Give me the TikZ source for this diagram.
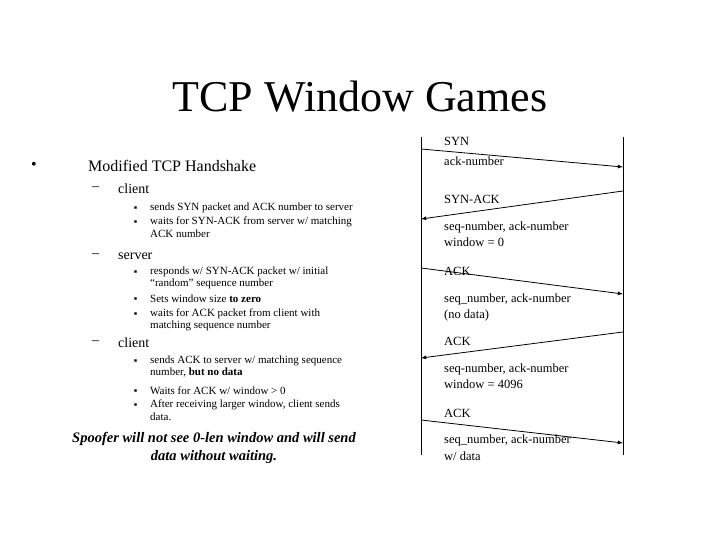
\documentclass[tikz,border=0pt]{standalone}
\usepackage{fontspec}
\setmainfont{Liberation Serif}
\begin{document}
\begin{tikzpicture}[x=1pt,y=-1pt,
  lv1/.style={anchor=west,inner sep=0pt,font=\fontsize{16}{18}\selectfont},
  lv2/.style={anchor=west,inner sep=0pt,font=\fontsize{14}{16}\selectfont},
  lv3/.style={anchor=west,inner sep=0pt,font=\fontsize{11}{12}\selectfont},
  lab/.style={anchor=west,inner sep=0pt,font=\fontsize{12.5}{14}\selectfont},
  msg/.style={thick,-latex},
  axis/.style={thick}]
\useasboundingbox (0,0) rectangle (720,540);
\node (title) at (360,97) {\fontsize{44}{48}\selectfont TCP Window Games};
\node[lv1] (b1) at (31,166) {•};
\node[lv1] (t1) at (88,166) {Modified TCP Handshake};
\node[lv2] (d1) at (92,189) {–};
\node[lv2] (c1) at (118,189) {client};
\node[lv3] (s1) at (134,208) {\tiny■};
\node[lv3] (s1t) at (150,208) {sends SYN packet and ACK number to server};
\node[lv3] (s2) at (134,222) {\tiny■};
\node[lv3] (s2t) at (150,222) {waits for SYN-ACK from server w/ matching};
\node[lv3] (s2u) at (150,234) {ACK number};
\node[lv2] (d2) at (92,256) {–};
\node[lv2] (c2) at (118,256) {server};
\node[lv3] (s3) at (134,272) {\tiny■};
\node[lv3] (s3t) at (150,272) {responds w/ SYN-ACK packet w/ initial};
\node[lv3] (s3u) at (150,284) {“random” sequence number};
\node[lv3] (s4) at (134,299) {\tiny■};
\node[lv3] (s4t) at (150,299) {Sets window size \textbf{to zero}};
\node[lv3] (s5) at (134,314) {\tiny■};
\node[lv3] (s5t) at (150,314) {waits for ACK packet from client with};
\node[lv3] (s5u) at (150,326) {matching sequence number};
\node[lv2] (d3) at (92,343) {–};
\node[lv2] (c3) at (118,343) {client};
\node[lv3] (s6) at (134,361) {\tiny■};
\node[lv3] (s6t) at (150,361) {sends ACK to server w/ matching sequence};
\node[lv3] (s6u) at (150,373) {number, \textbf{but no data}};
\node[lv3] (s7) at (134,391) {\tiny■};
\node[lv3] (s7t) at (150,391) {Waits for ACK w/ window > 0};
\node[lv3] (s8) at (134,405) {\tiny■};
\node[lv3] (s8t) at (150,405) {After receiving larger window, client sends};
\node[lv3] (s8u) at (150,417) {data.};
\node[align=center,inner sep=0pt,font=\fontsize{14.5}{17.5}\selectfont\bfseries\itshape] (spoof) at (214,448) {Spoofer will not see 0-len window and will send\\data without waiting.};
% timeline
\coordinate (lt) at (421,137); \coordinate (lb) at (421,455);
\coordinate (rt) at (623,137); \coordinate (rb) at (623,455);
\draw[axis] (lt) -- (lb);
\draw[axis] (rt) -- (rb);
\coordinate (a1) at (421,149); \coordinate (a2) at (623,167);
\coordinate (b1s) at (623,191); \coordinate (b2) at (421,219);
\coordinate (e1) at (421,268); \coordinate (e2) at (623,294);
\coordinate (f1) at (623,332); \coordinate (f2) at (421,358);
\coordinate (g1) at (421,420); \coordinate (g2) at (623,443);
\draw[msg] (a1) -- (a2);
\draw[msg] (b1s) -- (b2);
\draw[msg] (e1) -- (e2);
\draw[msg] (f1) -- (f2);
\draw[msg] (g1) -- (g2);
\node[lab] (l1) at (444,141) {SYN};
\node[lab] (l2) at (444,161) {ack-number};
\node[lab] (l3) at (444,199) {SYN-ACK};
\node[lab] (l4) at (444,227) {seq-number, ack-number};
\node[lab] (l5) at (444,242) {window = 0};
\node[lab] (l6) at (444,271) {ACK};
\node[lab] (l7) at (444,299) {seq\_number, ack-number};
\node[lab] (l8) at (444,315) {(no data)};
\node[lab] (l9) at (444,341) {ACK};
\node[lab] (l10) at (444,369) {seq-number, ack-number};
\node[lab] (l11) at (444,384) {window = 4096};
\node[lab] (l12) at (444,413) {ACK};
\node[lab] (l13) at (444,440) {seq\_number, ack-number};
\node[lab] (l14) at (444,456) {w/ data};
\end{tikzpicture}
\end{document}
